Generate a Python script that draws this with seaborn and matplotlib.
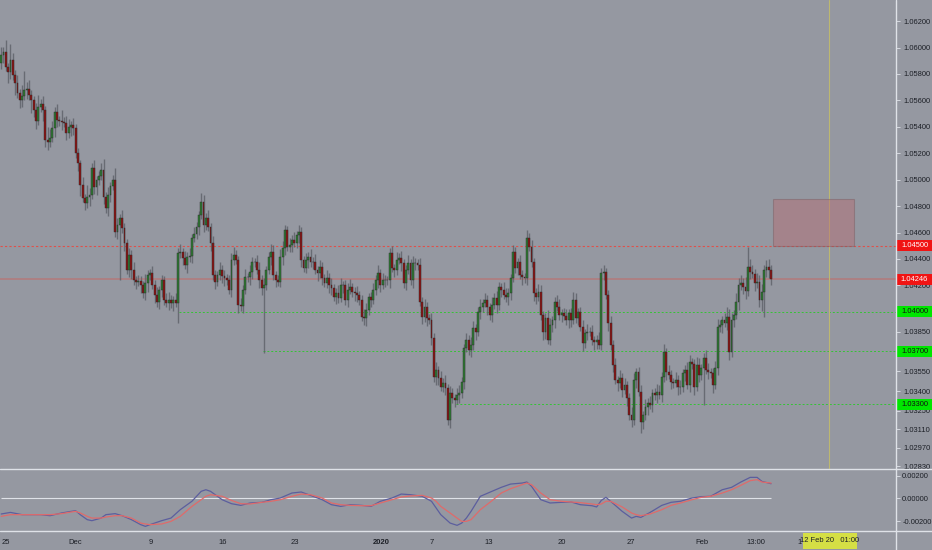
import numpy as np
import pandas as pd
import seaborn as sns
import matplotlib.pyplot as plt
from matplotlib.patches import Rectangle
from matplotlib.lines import Line2D
from matplotlib.transforms import blended_transform_factory

sns.set_theme(style='dark')
plt.rcParams['font.family'] = ['Liberation Sans', 'DejaVu Sans']

# 4h candles, open = previous close
first_open = 1.0588
close = [
    # 25 Nov - 6 Dec
    1.05944, 1.05966, 1.05853, 1.05815, 1.05906, 1.05792, 1.05732, 1.05656, 1.05603, 1.05633,
    1.05679, 1.05686, 1.05641, 1.05603, 1.05527, 1.05444, 1.05550, 1.05573, 1.05527, 1.05300,
    1.05285, 1.05315, 1.05391, 1.05512, 1.05452, 1.05444, 1.05437, 1.05429, 1.05353, 1.05399,
    1.05414, 1.05391, 1.05202, 1.05126, 1.04960, 1.04861, 1.04823, 1.04869, 1.04884, 1.05088,
    1.04944, 1.04997, 1.05028, 1.05073, 1.04869, 1.04785, 1.04884, 1.04952, 1.04997, 1.04604,
    1.04657, 1.04710, 1.04634, 1.04520, 1.04316, 1.04430, 1.04316, 1.04240, 1.04225, 1.04232,
    1.04202, 1.04142, 1.04217, 1.04278, 1.04294, 1.04202, 1.04127, 1.04074, 1.04165,
    # 9 Dec - 23 Dec
    1.04240, 1.04089, 1.04066, 1.04089, 1.04066, 1.04089, 1.04066, 1.04445, 1.04452, 1.04407,
    1.04354, 1.04415, 1.04422, 1.04558, 1.04589, 1.04642, 1.04732, 1.04831, 1.04657, 1.04710,
    1.04642, 1.04520, 1.04278, 1.04225, 1.04278, 1.04316, 1.04270, 1.04255, 1.04240, 1.04165,
    1.04392, 1.04430, 1.04392, 1.04051, 1.04044, 1.04165, 1.04263, 1.04263, 1.04301, 1.04377,
    1.04377, 1.04316, 1.04240, 1.04180, 1.04202, 1.04316, 1.04415, 1.04452, 1.04278, 1.04240,
    1.04225, 1.04415, 1.04483, 1.04619, 1.04490, 1.04505, 1.04543, 1.04520, 1.04581, 1.04604,
    1.04392, 1.04332, 1.04392, 1.04415, 1.04377,
    # 23 Dec - 9 Jan
    1.04377, 1.04316, 1.04294, 1.04339, 1.04255, 1.04217, 1.04255, 1.04202, 1.04180, 1.04112,
    1.04142, 1.04104, 1.04202, 1.04202, 1.04089, 1.04165, 1.04187, 1.04150, 1.04142, 1.04127,
    1.04089, 1.03960, 1.03953, 1.04013, 1.04112, 1.04089, 1.04165, 1.04240, 1.04294, 1.04202,
    1.04240, 1.04240, 1.04240, 1.04445, 1.04332, 1.04316, 1.04392, 1.04407, 1.04369, 1.04217,
    1.04316, 1.04369, 1.04240, 1.04369, 1.04369, 1.04354, 1.04074, 1.03960, 1.04036, 1.03953,
    1.03938, 1.03801, 1.03506, 1.03559, 1.03499, 1.03430, 1.03461, 1.03423, 1.03180, 1.03385,
    1.03347, 1.03332, 1.03370, 1.03385, 1.03468, 1.03726, 1.03786, 1.03710, 1.03748,
    # 9 Jan - 24 Jan
    1.03877, 1.03847, 1.03998, 1.04036, 1.04066, 1.04089, 1.04036, 1.03975, 1.04051, 1.04104,
    1.04051, 1.04187, 1.04165, 1.04127, 1.04112, 1.04142, 1.04255, 1.04452, 1.04332, 1.04377,
    1.04278, 1.04263, 1.04255, 1.04558, 1.04490, 1.04377, 1.04142, 1.04112, 1.04150, 1.03975,
    1.03847, 1.03953, 1.03786, 1.03900, 1.03938, 1.04074, 1.04036, 1.03975, 1.03990, 1.03968,
    1.03938, 1.03990, 1.03938, 1.04089, 1.03953, 1.03998, 1.03885, 1.03763, 1.03839, 1.03847,
    1.03847, 1.03786, 1.03771, 1.03786, 1.03748, 1.04294, 1.04301, 1.04127, 1.03915, 1.03748,
    # 24 Jan - 12 Feb
    1.03597, 1.03484, 1.03461, 1.03499, 1.03408, 1.03446, 1.03347, 1.03218, 1.03180, 1.03484,
    1.03544, 1.03393, 1.03165, 1.03218, 1.03279, 1.03309, 1.03294, 1.03385, 1.03370, 1.03393,
    1.03370, 1.03506, 1.03695, 1.03544, 1.03521, 1.03468, 1.03461, 1.03484, 1.03430, 1.03430,
    1.03536, 1.03559, 1.03446, 1.03620, 1.03605, 1.03430, 1.03597, 1.03521, 1.03574, 1.03650,
    1.03559, 1.03544, 1.03536, 1.03446, 1.03574, 1.03885, 1.03900, 1.03938, 1.03915, 1.03960,
    1.03695, 1.03938, 1.03975, 1.04074, 1.04202, 1.04217, 1.04187, 1.04157, 1.04339, 1.04301,
    1.04286, 1.04217, 1.04225, 1.04089, 1.04150, 1.04316, 1.04339, 1.04316, 1.04246,
]

# wick lengths in pips above / below the body
wick_up = [
    6, 4, 9, 3, 12, 5, 4, 6, 3, 8, 14, 5, 7, 4, 3, 5, 9, 4, 6, 3, 10, 7, 5, 4, 6, 3, 8, 4, 5, 6,
    3, 5, 3, 4, 2, 6, 3, 9, 5, 4, 6, 3, 4, 5, 8, 4, 6, 3, 4, 9, 5, 3, 6, 4, 3, 5, 4, 6, 3, 5,
    4, 3, 7, 4, 3, 5, 4, 6, 3,
    4, 3, 5, 6, 4, 3, 5, 4, 6, 3, 5, 4, 6, 3, 5, 4, 3, 7, 5, 4, 6, 3, 5, 4, 3, 6, 4, 5, 3, 4,
    5, 6, 4, 3, 5, 4, 6, 3, 5, 4, 3, 5, 6, 4, 5, 3, 4, 6, 5, 3, 4, 6, 5, 4, 3, 5, 4, 6, 3, 5,
    4, 3, 5, 4, 6,
    4, 6, 3, 5, 4, 3, 6, 4, 5, 3, 4, 6, 5, 3, 4, 5, 6, 3, 4, 5, 3, 4, 6, 5, 3, 4, 5, 4, 6, 3,
    5, 4, 3, 4, 5, 3, 6, 4, 5, 3, 4, 6, 3, 5, 4, 3, 5, 4, 6, 4, 3, 5, 4, 6, 3, 5, 4, 6, 3, 5,
    4, 3, 5, 6, 4, 3, 5, 4, 6,
    5, 3, 4, 6, 3, 5, 4, 3, 6, 4, 5, 4, 3, 6, 5, 4, 3, 5, 4, 3, 5, 4, 3, 6, 4, 5, 3, 4, 6, 5,
    3, 4, 6, 5, 3, 4, 5, 6, 3, 4, 5, 3, 4, 6, 5, 3, 4, 5, 3, 6, 4, 5, 3, 4, 6, 4, 5, 3, 4, 5,
    4, 5, 3, 6, 4, 5, 3, 4, 6, 5, 3, 4, 5, 3, 6, 4, 5, 3, 4, 6, 5, 4, 6, 3, 5, 4, 3, 6, 4, 5,
    3, 4, 6, 5, 3, 4, 6, 5, 3, 4, 6, 5, 3, 4, 5, 6, 4, 3, 5, 8, 6, 5, 4, 7, 5, 6, 4, 8, 15, 6,
    5, 4, 7, 5, 6, 4, 5, 6, 4,
]
wick_dn = [
    4, 6, 3, 8, 5, 4, 9, 4, 6, 5, 3, 7, 4, 10, 5, 6, 3, 4, 8, 5, 6, 4, 3, 7, 5, 4, 6, 3, 5, 4,
    7, 5, 4, 6, 8, 3, 5, 4, 7, 3, 5, 6, 4, 3, 5, 4, 6, 5, 3, 4, 5, 42, 4, 6, 3, 5, 7, 4, 5, 3,
    6, 4, 5, 7, 4, 3, 6, 4, 5,
    5, 4, 3, 5, 4, 6, 3, 15, 4, 5, 3, 6, 4, 5, 3, 4, 6, 3, 5, 4, 3, 6, 4, 5, 3, 4, 5, 6, 4, 3,
    5, 4, 3, 6, 4, 5, 3, 4, 6, 5, 4, 3, 6, 5, 49, 4, 3, 6, 4, 5, 3, 4, 6, 5, 3, 4, 5, 3, 4, 6,
    5, 3, 4, 6, 4,
    5, 3, 6, 4, 5, 3, 4, 6, 5, 3, 5, 4, 3, 6, 4, 5, 3, 4, 6, 5, 4, 3, 5, 6, 4, 5, 3, 4, 6, 5,
    3, 5, 4, 6, 3, 5, 4, 3, 6, 4, 5, 3, 4, 6, 5, 4, 3, 5, 4, 6, 3, 5, 4, 6, 5, 3, 4, 5, 4, 6,
    4, 5, 3, 6, 4, 5, 3, 4, 5,
    4, 6, 3, 5, 4, 3, 6, 4, 5, 3, 6, 4, 5, 3, 4, 6, 5, 3, 4, 5, 3, 6, 4, 5, 3, 4, 6, 5, 3, 4,
    6, 5, 3, 4, 5, 6, 3, 4, 5, 3, 4, 6, 5, 3, 4, 5, 3, 6, 4, 5, 3, 4, 6, 5, 3, 4, 5, 3, 6, 4,
    5, 3, 6, 4, 5, 3, 6, 4, 5, 4, 6, 3, 8, 5, 4, 6, 3, 5, 4, 6, 3, 5, 4, 6, 3, 5, 4, 3, 6, 5,
    4, 6, 3, 5, 4, 6, 3, 5, 4, 28, 3, 5, 4, 6, 3, 5, 4, 6, 3, 5, 6, 4, 5, 3, 6, 4, 5, 6, 4, 5,
    3, 6, 4, 5, 8, 19, 5, 6, 4,
]

# time axis (bar numbers where the labels sit)
date_bars = [2, 32, 64.5, 95.4, 126.4, 163.4, 184.9, 209.4, 240.8, 270.9, 301.4, 324.6, 343.3]
date_labels = ['25', 'Dec', '9', '16', '23', '2020', '7', '13', '20', '27', 'Feb', '13:00', '1']

price_ticks = [1.062, 1.060, 1.058, 1.056, 1.054, 1.052, 1.050, 1.048, 1.046, 1.044, 1.042,
               1.0385, 1.0355, 1.034, 1.0325, 1.0311, 1.0297, 1.0283]
osc_ticks = [0.002, 0.0, -0.002]
osc_labels = ['0.00200', '0.00000', '-0.00200']

# oscillator (blue fast line, red signal line) sampled off the lower pane
osc_bar = [0, 4, 9, 13, 17, 21, 26, 30, 32, 34, 37, 39, 43, 45, 49, 52, 56, 60, 62, 64,
           69, 73, 77, 82, 86, 88, 90, 95, 99, 103, 107, 112, 116, 120, 125, 129, 133, 138, 142, 146,
           150, 155, 159, 163, 168, 172, 176, 181, 185, 187, 189, 193, 196, 198, 200, 202, 206, 211, 215, 219,
           224, 226, 228, 232, 236, 241, 245, 249, 254, 256, 258, 260, 262, 267, 271, 273, 275, 279, 284, 288,
           292, 297, 301, 305, 310, 314, 318, 322, 325, 327, 331]
macd = [-0.00138, -0.00124, -0.00144, -0.00144, -0.00144, -0.00153, -0.00129, -0.00115, -0.00109, -0.00144,
        -0.00188, -0.00197, -0.00174, -0.00144, -0.00135, -0.00153, -0.00188, -0.00232, -0.00247, -0.00232,
        -0.00197, -0.00174, -0.00100, -0.00026, 0.00062, 0.00076, 0.00062, -0.00012, -0.00047, -0.00062,
        -0.00041, -0.00035, -0.00012, 0.00003, 0.00047, 0.00056, 0.00026, -0.00012, -0.00056, -0.00071,
        -0.00056, -0.00062, -0.00071, -0.00026, 0.00003, 0.00038, 0.00032, 0.00018, -0.00026, -0.00085,
        -0.00144, -0.00218, -0.00238, -0.00218, -0.00174, -0.00115, 0.00018, 0.00062, 0.00097, 0.00126,
        0.00135, 0.00144, 0.00106, -0.00012, -0.00041, -0.00035, -0.00032, -0.00056, -0.00065, -0.00076,
        -0.00018, 0.00009, -0.00026, -0.00115, -0.00174, -0.00159, -0.00168, -0.00124, -0.00062, -0.00035,
        -0.00026, 0.00003, 0.00015, 0.00018, 0.00076, 0.00097, 0.00144, 0.00185, 0.00185, 0.00150, 0.00129]
signal = [-0.00159, -0.00144, -0.00144, -0.00144, -0.00144, -0.00144, -0.00135, -0.00121, -0.00115, -0.00129,
          -0.00159, -0.00174, -0.00174, -0.00165, -0.00153, -0.00153, -0.00174, -0.00218, -0.00226, -0.00232,
          -0.00226, -0.00203, -0.00159, -0.00071, -0.00012, 0.00018, 0.00032, 0.00018, -0.00018, -0.00047,
          -0.00050, -0.00035, -0.00026, -0.00012, 0.00018, 0.00038, 0.00032, 0.00003, -0.00041, -0.00056,
          -0.00062, -0.00065, -0.00065, -0.00041, -0.00012, 0.00012, 0.00021, 0.00026, 0.00003, -0.00026,
          -0.00071, -0.00129, -0.00174, -0.00203, -0.00203, -0.00188, -0.00100, -0.00021, 0.00047, 0.00085,
          0.00121, 0.00135, 0.00121, 0.00047, -0.00012, -0.00026, -0.00032, -0.00038, -0.00050, -0.00056,
          -0.00050, -0.00026, -0.00026, -0.00076, -0.00129, -0.00144, -0.00153, -0.00138, -0.00100, -0.00062,
          -0.00041, -0.00012, 0.00009, 0.00018, 0.00047, 0.00076, 0.00115, 0.00156, 0.00165, 0.00144, 0.00135]

# drawings
resistance = 1.045
last_price = 1.04246
support = [1.040, 1.037, 1.033]
support_from = [76.5, 112.6, 195.6]
zone_bars = [331.9, 366.7]
zone_prices = [1.045, 1.0485]
cursor_bar = 356.0
cursor_text = '12 Feb 20   01:00'

bg = '#9598a1'
line_white = '#dfe2e8'
txt = '#1c1f26'
up_col, dn_col = '#2f7a33', '#8a1414'

df = pd.DataFrame({'close': close, 'up': wick_up, 'dn': wick_dn})
df['open'] = df['close'].shift(1).fillna(first_open)
df['top'] = df[['open', 'close']].max(axis=1)
df['bot'] = df[['open', 'close']].min(axis=1)
df['high'] = df['top'] + df['up'] * 0.0001
df['low'] = df['bot'] - df['dn'] * 0.0001
df['bar'] = np.arange(len(df))

fig = plt.figure(figsize=(9.32, 5.5), dpi=100, facecolor=bg)
ax = fig.add_axes([0, 81 / 550, 896 / 932, 469 / 550])
ax2 = fig.add_axes([0, 19 / 550, 896 / 932, 61 / 550])
for a in (ax, ax2):
    a.set_facecolor(bg)
    for s in a.spines.values():
        s.set_visible(False)
    a.set_xlim(-0.5, 384.7)
    a.yaxis.tick_right()

# candles
ax.vlines(df['bar'], df['low'], df['high'], color='#5a5d64', lw=1.0, alpha=0.75, zorder=2)
body_col = np.where(df['close'] >= df['open'], up_col, dn_col)
ax.bar(df['bar'], np.maximum(df['top'] - df['bot'], 0.00002), bottom=df['bot'], width=0.8,
       color=body_col, edgecolor='#2a2a2a', linewidth=0.3, zorder=3)

ax.set_ylim(1.0281, 1.0636)
ax.set_xticks([])
ax.set_yticks(price_ticks)
ax.set_yticklabels([f'{p:.5f}' for p in price_ticks])
ax.tick_params(axis='y', length=3, width=0.6, color=line_white, labelsize=5.4,
               labelcolor=txt, pad=2)

# horizontal levels
ax.axhline(resistance, color='#e0504a', lw=0.8, ls=(0, (2, 2)), zorder=1)
ax.axhline(last_price, color='#b57878', lw=1.3, alpha=0.8, zorder=1)
for lvl, start in zip(support, support_from):
    ax.hlines(lvl, start, 384.7, color='#35c435', lw=0.7, ls=(0, (2, 2)), zorder=1)

# target zone
ax.add_patch(Rectangle((zone_bars[0], zone_prices[0]), zone_bars[1] - zone_bars[0],
                       zone_prices[1] - zone_prices[0], facecolor='#b86a72', alpha=0.45,
                       edgecolor='#7a5a60', lw=0.8, zorder=2))
ax.axvline(cursor_bar, color='#bdb870', lw=0.8, zorder=1)

# price labels on the scale
trans = blended_transform_factory(fig.transFigure, ax.transData)
box_h = 11 * (1.0636 - 1.0281) / 469
tags = [(resistance, '#f01414', 'white'), (last_price, '#f01414', 'white')] + \
       [(lvl, '#00e600', '#111111') for lvl in support]
for lvl, fc, tc in tags:
    ax.add_patch(Rectangle((897 / 932, lvl - box_h / 2), 35 / 932, box_h, transform=trans,
                           facecolor=fc, edgecolor='none', clip_on=False, zorder=6))
    ax.text(914.5 / 932, lvl, f'{lvl:.5f}', transform=trans, ha='center', va='center',
            fontsize=5.4, color=tc, zorder=7, clip_on=False)

# oscillator pane
osc = pd.DataFrame({'bar': osc_bar * 2, 'value': macd + signal,
                    'line': ['fast'] * len(macd) + ['signal'] * len(signal)})
ax2.hlines(0, 0, len(close) - 1, color=line_white, lw=0.8, zorder=1)
sns.lineplot(data=osc, x='bar', y='value', hue='line', palette={'fast': '#5c5e9e', 'signal': '#e06a6a'},
             linewidth=0.9, legend=False, ax=ax2, estimator=None, sort=False, zorder=3)
ax2.set_ylim(-0.00288, 0.0025)
ax2.set_yticks(osc_ticks)
ax2.set_yticklabels(osc_labels)
ax2.set_xlabel('')
ax2.set_ylabel('')
ax2.set_xticks(date_bars)
ax2.set_xticklabels(date_labels)
ax2.tick_params(axis='y', length=3, width=0.6, color=line_white, labelsize=5.4,
                labelcolor=txt, pad=1.5)
ax2.tick_params(axis='x', length=2.5, width=0.6, color=line_white, labelsize=5.5,
                labelcolor=txt, pad=3)
for t in ax2.get_xticklabels():
    if t.get_text() == '2020':
        t.set_fontweight('bold')

# pane separators and scale border
for y in (1 - 469 / 550, 1 - 531 / 550):
    fig.add_artist(Line2D([0, 1], [y, y], transform=fig.transFigure, color=line_white, lw=1.0))
fig.add_artist(Line2D([896 / 932, 896 / 932], [0, 1], transform=fig.transFigure, color=line_white, lw=1.0))

# cursor time tag
fig.add_artist(Rectangle((803 / 932, 1 / 550), 54 / 932, 16 / 550, transform=fig.transFigure,
                         facecolor='#d5df45', edgecolor='none', zorder=5))
fig.text(830 / 932, 9 / 550, cursor_text, ha='center', va='center', fontsize=5.4,
         color=txt, zorder=6)

fig.savefig('out.png', dpi=100, facecolor=bg)
